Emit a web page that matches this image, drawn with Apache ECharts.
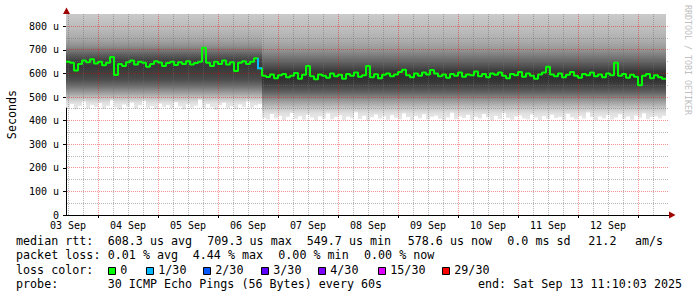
<!DOCTYPE html>
<html>
<head>
<meta charset="utf-8">
<script src="https://cdn.jsdelivr.net/npm/echarts@6.0.0/dist/echarts.min.js"></script>
<style>
html,body{margin:0;padding:0;background:#ffffff;}
#chart{width:697px;height:297px;}
</style>
</head>
<body>
<div id="chart"></div>
<script>
// ---------------- data ----------------
const startHour = 11 + 10 / 60 + 3 / 3600;   // Sep 3 11:10:03 in hours since Sep 3 00:00
const endHour = startHour + 240;             // Sep 13 11:10:03
const columnHours = 1.6;                     // each column of data covers 1.6 h
const yMax = 852;                            // top of the value axis (microseconds)

// median RTT per column (us)
const medianRtt = [
  650,645,612,640,655,648,660,642,650,635,
  645,670,593,640,632,648,655,638,650,645,
  628,640,652,646,632,644,650,636,648,640,
  652,638,644,650,709,645,632,650,640,655,
  638,648,610,645,652,640,650,664,622,
  590,585,596,580,592,598,584,590,602,578,
  594,632,588,575,596,590,582,600,588,594,
  578,598,590,604,586,592,632,584,597,580,
  594,600,588,596,606,616,592,584,600,590,
  604,596,615,600,588,596,582,598,590,604,
  586,596,592,608,588,598,584,600,594,604,
  590,580,598,592,606,586,600,590,578,596,
  604,628,596,588,600,584,594,606,590,582,
  598,592,604,588,596,584,600,592,645,590,
  598,582,594,586,550,590,598,580,592,584,
  578
];

// lowest ping per column (us) - bottom edge of the smoke
const smokeMin = [
  455,470,448,462,480,452,466,458,474,450,
  463,485,456,447,468,459,476,451,465,482,
  454,461,449,472,458,466,453,478,460,448,
  469,455,463,487,452,470,457,446,465,475,
  453,461,449,468,458,480,455,464,470,
  412,405,428,410,420,402,416,432,408,419,
  404,425,413,400,418,409,430,406,415,422,
  403,417,411,435,407,420,401,414,426,409,
  418,404,423,412,406,430,415,402,419,410,
  427,405,416,421,408,400,413,433,406,418,
  411,424,403,416,409,428,414,401,420,407,
  431,412,404,417,422,410,405,426,413,402,
  419,408,425,411,416,403,429,414,406,420,
  409,434,415,402,418,410,423,405,413,427,
  408,417,404,421,412,430,406,415,418,410,
  420
];

// [column index, lost pings out of 30]
const lossEvents = [[48, 1]];

// first column of each smoke regime
const regimeFirstColumn = [0, 49];

// smoke distribution profiles: [value (us), gray]
const smokeProfileEarly = [
  [852,'#c9c9c9'],[790,'#bababa'],[745,'#a8a8a8'],[715,'#8e8e8e'],[695,'#747474'],
  [675,'#585858'],[655,'#424242'],[630,'#383838'],[600,'#404040'],[575,'#4c4c4c'],
  [548,'#6c6c6c'],[522,'#969696'],[500,'#bcbcbc'],[480,'#dadada'],[470,'#e4e4e4']
];
const smokeProfileLate = [
  [852,'#cacaca'],[790,'#bdbdbd'],[745,'#b0b0b0'],[705,'#999999'],[665,'#727272'],
  [635,'#545454'],[610,'#3a3a3a'],[585,'#303030'],[565,'#363636'],[545,'#464646'],
  [520,'#626262'],[495,'#8a8a8a'],[470,'#adadad'],[448,'#cdcdcd'],[430,'#e0e0e0'],[415,'#e6e6e6']
];
const smokeFloorColor = '#e6e6e6';

// axes
const yTickValues = [0,100,200,300,400,500,600,700,800];
const yMinorValues = [50,150,250,350,450,550,650,750];
const dayLabels = ['03 Sep','04 Sep','05 Sep','06 Sep','07 Sep','08 Sep','09 Sep','10 Sep','11 Sep','12 Sep'];
const dayLabelHours = [12,36,60,84,108,132,156,180,204,228];
const majorGridHours = [24,48,72,96,120,144,168,192,216,240];
const minorGridHours = [12,18,30,36,42,54,60,66,78,84,90,102,108,114,126,132,138,150,156,162,
                        174,180,186,198,204,210,222,228,234,246];

// legend
const lossLegend = [['0','#00ff00'],['1/30','#00b8ff'],['2/30','#0059ff'],['3/30','#5e00ff'],
                    ['4/30','#7e00ff'],['15/30','#dd00ff'],['29/30','#ff0000']];
const lossThresholds = [0,1,2,3,4,15,29];
const medianStats = ['608.3 us avg','709.3 us max','549.7 us min','578.6 us now','0.0 ms sd','21.2','am/s'];
const lossStats = ['0.01 % avg','4.44 % max','0.00 % min','0.00 % now'];
const probeText = '30 ICMP Echo Pings (56 Bytes) every 60s';
const endText = 'end: Sat Sep 13 11:10:03 2025';

// ---------------- chart ----------------
const MONO = '"DejaVu Sans Mono", monospace';
const chart = echarts.init(document.getElementById('chart'), null, {renderer: 'svg'});

function lossColor(n) {
  let c = lossLegend[0][1];
  for (let k = 0; k < lossThresholds.length; k++) if (n >= lossThresholds[k]) c = lossLegend[k][1];
  return c;
}

const smokeData = smokeMin.map((lo, i) => [
  startHour + i * columnHours, startHour + (i + 1) * columnHours, lo,
  i >= regimeFirstColumn[1] ? 1 : 0
]);
const profiles = [smokeProfileEarly, smokeProfileLate];

function renderSmoke(params, api) {
  const t0 = api.value(0), t1 = api.value(1), lo = api.value(2), reg = api.value(3);
  const pTL = api.coord([t0, yMax]);
  const pBR = api.coord([t1, lo]);
  const stops = [];
  profiles[reg].forEach(([v, c]) => {
    if (v > lo) stops.push({offset: (yMax - v) / (yMax - lo), color: c});
  });
  stops.push({offset: 1, color: smokeFloorColor});
  return {
    type: 'rect',
    shape: {x: pTL[0], y: pTL[1], width: pBR[0] - pTL[0], height: pBR[1] - pTL[1]},
    style: {fill: new echarts.graphic.LinearGradient(0, 0, 0, 1, stops)}
  };
}

const MAJOR_COLOR = 'rgba(235,0,0,0.42)';
const MINOR_COLOR = 'rgba(110,110,110,0.5)';
function renderGrid(params, api) {
  const cs = params.coordSys;
  const children = [];
  function vline(h, color) {
    const x = Math.floor(api.coord([h, 0])[0]) + 0.5;
    children.push({type: 'line', shape: {x1: x, y1: cs.y, x2: x, y2: cs.y + cs.height},
      style: {stroke: color, lineWidth: 1, lineDash: [1, 1], fill: null}});
  }
  function hline(v, color) {
    const y = Math.floor(api.coord([startHour, v])[1]) + 0.5;
    children.push({type: 'line', shape: {x1: cs.x + 1, y1: y, x2: cs.x + cs.width, y2: y},
      style: {stroke: color, lineWidth: 1, lineDash: [1, 1], fill: null}});
  }
  minorGridHours.forEach(h => vline(h, MINOR_COLOR));
  yMinorValues.forEach(v => hline(v, MINOR_COLOR));
  majorGridHours.forEach(h => vline(h, MAJOR_COLOR));
  yTickValues.filter(v => v > 0).forEach(v => hline(v, MAJOR_COLOR));
  return {type: 'group', children: children};
}

const medianLine = medianRtt.map((v, i) => [startHour + i * columnHours, v]);
medianLine.push([startHour + medianRtt.length * columnHours, medianRtt[medianRtt.length - 1]]);

const lossData = lossEvents.map(([i, n]) => [
  startHour + i * columnHours, startHour + (i + 1) * columnHours, medianRtt[i],
  i > 0 ? medianRtt[i - 1] : medianRtt[i], n
]);
function renderLoss(params, api) {
  const p0 = api.coord([api.value(0), api.value(2)]);
  const p1 = api.coord([api.value(1), api.value(2)]);
  const pPrev = api.coord([api.value(0), api.value(3)]);
  return {
    type: 'polyline',
    shape: {points: [[p0[0], pPrev[1]], [p0[0], p0[1]], [p1[0], p1[1]]]},
    style: {stroke: lossColor(api.value(4)), lineWidth: 2, fill: null}
  };
}

// legend graphics
const legendFont = '11.7px ' + MONO;
function txt(x, y, s) {
  return {type: 'text', x: x, y: y, silent: true, z: 100,
    style: {text: s, font: legendFont, fill: '#000', verticalAlign: 'middle', textVerticalAlign: 'middle'}};
}
const graphics = [];
const medianX = [107.7, 207.3, 306.7, 407.7, 507.3, 588.3, 635];
const lossX = [107.7, 192.7, 278.3, 364];
const boxX = [108, 146, 203, 261, 318, 378, 442];
graphics.push(txt(16, 241, 'median rtt:'));
medianStats.forEach((s, k) => graphics.push(txt(medianX[k], 241, s)));
graphics.push(txt(16, 255.3, 'packet loss:'));
lossStats.forEach((s, k) => graphics.push(txt(lossX[k], 255.3, s)));
graphics.push(txt(16, 269.6, 'loss color:'));
lossLegend.forEach(([label, color], k) => {
  graphics.push({type: 'rect', silent: true, z: 100,
    shape: {x: boxX[k] + 0.5, y: 267.5, width: 7, height: 7},
    style: {fill: color, stroke: '#000', lineWidth: 1}});
  graphics.push(txt(boxX[k] + 12.3, 269.6, label));
});
graphics.push(txt(16, 284, 'probe:'));
graphics.push(txt(107.7, 284, probeText));
graphics.push(txt(478, 284, endText));
// axis arrows
graphics.push({type: 'polygon', silent: true, z: 100,
  shape: {points: [[63, 14], [70, 14], [66.5, 7.5]]}, style: {fill: '#a00000'}});
graphics.push({type: 'polygon', silent: true, z: 100,
  shape: {points: [[669, 211.5], [669, 218.5], [675.5, 215]]}, style: {fill: '#a00000'}});
// watermark
graphics.push({type: 'text', x: 688, y: 60, rotation: -Math.PI / 2, silent: true, z: 100,
  style: {text: 'RRDTOOL / TOBI OETIKER', font: '8.3px ' + MONO, fill: '#c0c0c0',
          align: 'center', verticalAlign: 'middle', textAlign: 'center', textVerticalAlign: 'middle'}});

const option = {
  animation: false,
  backgroundColor: '#ffffff',
  grid: {left: 66, top: 14, width: 603, height: 201, containLabel: false, outerBoundsMode: 'none'},
  xAxis: {
    type: 'value', min: startHour, max: endHour + 1.2,
    axisLine: {show: true, lineStyle: {color: '#000', width: 1}},
    axisTick: {show: true, customValues: majorGridHours, length: 3, lineStyle: {color: '#000'}},
    axisLabel: {
      customValues: dayLabelHours, margin: 5, color: '#000',
      fontFamily: MONO, fontSize: 10,
      formatter: v => dayLabels[dayLabelHours.indexOf(Math.round(v))] || ''
    },
    splitLine: {show: false}
  },
  yAxis: {
    type: 'value', min: 0, max: yMax,
    axisLine: {show: true, lineStyle: {color: '#000', width: 1}},
    axisTick: {show: true, customValues: yTickValues, length: 3, lineStyle: {color: '#000'}},
    axisLabel: {
      customValues: yTickValues, margin: 7, color: '#000',
      fontFamily: MONO, fontSize: 10,
      formatter: v => (v === 0 ? '0' : v + ' u')
    },
    splitLine: {show: false},
    name: 'Seconds', nameLocation: 'middle', nameRotate: 90, nameGap: 48,
    nameTextStyle: {fontFamily: MONO, fontSize: 11.7, color: '#000'}
  },
  series: [
    {type: 'custom', name: 'smoke', renderItem: renderSmoke, data: smokeData, z: 1, silent: true,
     encode: {x: [0, 1], y: 2}},
    {type: 'custom', name: 'grid', renderItem: renderGrid, data: [[startHour, 0]], z: 2, silent: true},
    {type: 'line', name: 'median rtt', data: medianLine, step: 'end', showSymbol: false, symbol: 'none',
     lineStyle: {color: lossLegend[0][1], width: 2}, z: 3, silent: true},
    {type: 'custom', name: 'loss', renderItem: renderLoss, data: lossData, z: 4, silent: true,
     encode: {x: [0, 1], y: 2}}
  ],
  graphic: graphics
};
chart.setOption(option);
</script>
</body>
</html>
